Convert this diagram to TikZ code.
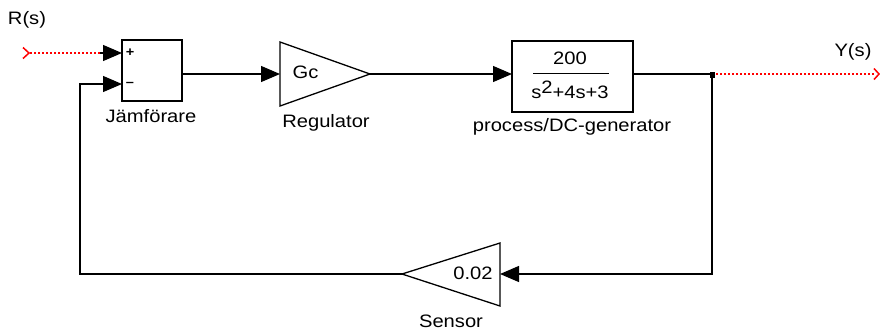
\documentclass[tikz,border=0pt]{standalone}
\usepackage{fontspec}
\setmainfont{Liberation Sans}[FakeStretch=1.12]
\usetikzlibrary{arrows.meta}
\begin{document}
\begin{tikzpicture}[x=1pt,y=-1pt,
  wire/.style={line width=1.3pt},
  sig/.style={wire,-{Triangle[length=19pt,width=16pt]}},
  blk/.style={draw,line width=1.3pt,fill=white,inner sep=0pt},
  lbl/.style={font=\fontsize{18}{20}\selectfont,inner sep=0pt},
  pm/.style={font=\bfseries\fontsize{13}{13}\selectfont,inner sep=0pt},
  ext/.style={red,line width=1.5pt,dash pattern=on 2pt off 2pt},
  chev/.style={red,line width=1.5pt}]
\useasboundingbox (0,0) rectangle (880,333);

% summing block
\node[blk,minimum width=60pt,minimum height=61pt] (sum) at (152,70.5) {};
\coordinate (sumA) at (122,53);
\coordinate (sumB) at (122,84);
\coordinate (sumO) at (182,74);
\node[pm] (plus) at (130,53) {+};
\node[pm] (minus) at (130,84.5) {\textendash};
\node[lbl] (jf) at (151,116) {Jämförare};

% regulator
\draw[line width=1.3pt,fill=white] (280,42) -- (370,74) -- (280,106) -- cycle;
\coordinate (gcin) at (280,74);
\coordinate (gcout) at (370,74);
\node[lbl] (gc) at (305.5,72) {Gc};
\node[lbl] (reg) at (326,123) {Regulator};

% process
\node[blk,minimum width=121pt,minimum height=71pt] (proc) at (572.5,76.5) {};
\coordinate (pin) at (512,74);
\coordinate (pout) at (633,74);
\coordinate (fl) at (533,73.5);
\coordinate (fr) at (609,73.5);
\draw[wire] (fl) -- (fr);
\node[lbl] (num) at (570,58) {200};
\node[lbl,anchor=base] (den) at (570,98) {s\raisebox{5pt}{2}+4s+3};
\node[lbl] (pl) at (572,127) {process/DC-generator};

% sensor
\draw[line width=1.3pt,fill=white] (500,243) -- (402,274) -- (500,306) -- cycle;
\coordinate (sin) at (500,274);
\coordinate (sout) at (402,274);
\node[lbl] (k) at (473,273) {0.02};
\node[lbl] (sl) at (451,321) {Sensor};

% input / output
\coordinate (rin) at (30,53);
\coordinate (rj) at (100,53);
\coordinate (yj) at (712,74);
\coordinate (yout) at (875,74);
\coordinate (fbx) at (80,84);
\node[lbl] (R) at (27,20) {R(s)};
\node[lbl] (Y) at (853,52) {Y(s)};

\draw[chev] (23,47.5) -- (29,53) -- (23,58.5);
\draw[ext] (rin) -- (rj);
\draw[sig] (rj) -- (sumA);
\draw[sig] (sumO) -- (gcin);
\draw[sig] (gcout) -- (pin);
\draw[wire] (pout) -- (yj);
\draw[ext] (yj) -- (yout);
\draw[chev] (874,68.5) -- (879,74) -- (874,79.5);
\fill (710,72) rectangle (715,78);
\draw[sig] (yj) |- (sin);
\draw[sig] (sout) -| (fbx) -- (sumB);
\end{tikzpicture}
\end{document}
